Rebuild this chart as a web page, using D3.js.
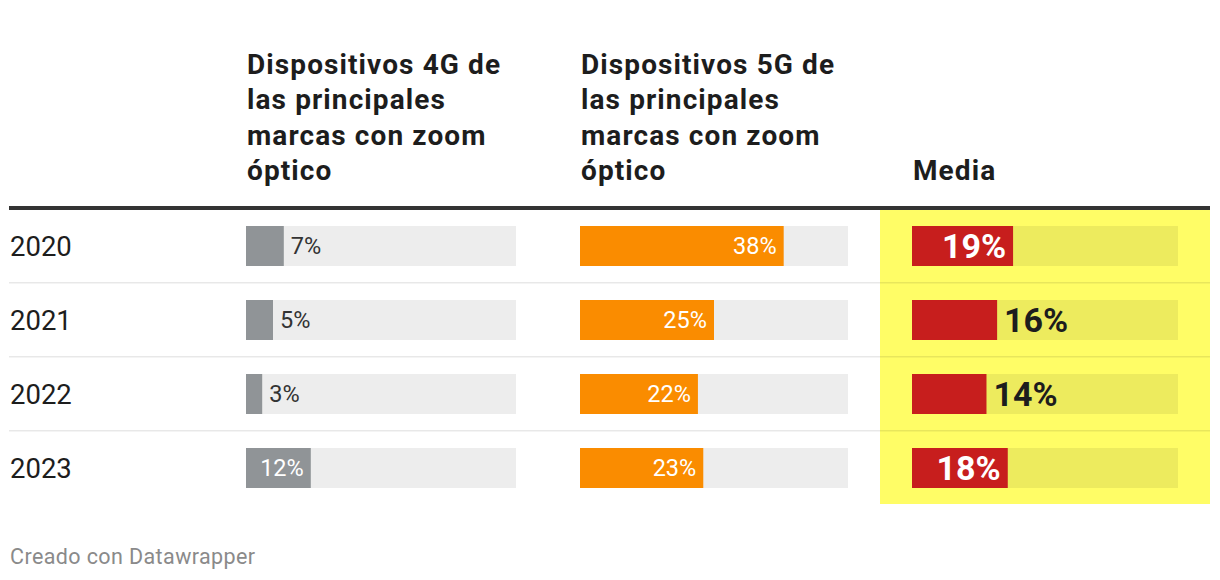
<!DOCTYPE html>
<html>
<head>
<meta charset="utf-8">
<script src="https://cdn.jsdelivr.net/npm/d3@7"></script>
<style>
  body { margin: 0; background: #fff; }
  text { font-family: Roboto, "Noto Sans", sans-serif; }
</style>
</head>
<body>
<div id="chart"></div>
<script>
// data
var years = ["2020", "2021", "2022", "2023"];
var dev4g = [7, 5, 3, 12];
var dev5g = [38, 25, 22, 23];
var media = [19, 16, 14, 18];
var header4g = ["Dispositivos 4G de", "las principales", "marcas con zoom", "óptico"];
var header5g = ["Dispositivos 5G de", "las principales", "marcas con zoom", "óptico"];
var headerMedia = ["Media"];

var width = 1220, height = 580;

var svg = d3.select("#chart")
  .append("svg")
    .attr("width", width)
    .attr("height", height);

// rows
var y = d3.scaleBand()
  .domain(years)
  .range([210, 210 + 74 * years.length]);
var barH = 40, barOff = 16;

// columns
var cols = [
  {values: dev4g, header: header4g, color: "#909497", x: d3.scaleLinear().domain([0, 50]).range([246, 516]), size: 23.5, weight: 400},
  {values: dev5g, header: header5g, color: "#fa8c00", x: d3.scaleLinear().domain([0, 50]).range([580, 848]), size: 23.5, weight: 400},
  {values: media, header: headerMedia, color: "#c71e1d", x: d3.scaleLinear().domain([0, 50]).range([912, 1178]), size: 34, weight: 700}
];

// yellow highlight behind the "Media" column
svg.append("rect")
  .attr("x", 880)
  .attr("y", y(years[0]))
  .attr("width", 330)
  .attr("height", y(years[years.length - 1]) + barOff + barH + 16 - y(years[0]))
  .attr("fill", "#fffd66");

// row separators
svg.selectAll(".sep")
  .data(years.slice(0, -1))
  .enter().append("rect")
    .attr("x", 9)
    .attr("y", function(d) { return y(d) + y.bandwidth() - 2; })
    .attr("width", 1201)
    .attr("height", 1.5)
    .attr("fill", "rgba(0,0,0,0.09)");

// thick header rule
svg.append("rect")
  .attr("x", 9).attr("y", 206)
  .attr("width", 1201).attr("height", 4)
  .attr("fill", "#333");

// year labels
svg.selectAll(".year")
  .data(years)
  .enter().append("text")
    .attr("x", 10)
    .attr("y", function(d) { return y(d) + barOff + barH / 2; })
    .attr("dy", "0.36em")
    .attr("font-size", 27.5)
    .attr("fill", "#1d1d1d")
    .text(function(d) { return d; });

cols.forEach(function(c) {
  // header
  var ht = svg.append("text")
    .attr("font-size", 28)
    .attr("font-weight", 700)
    .attr("letter-spacing", 1.1)
    .attr("fill", "#1d1d1d");
  var n = c.header.length;
  c.header.forEach(function(line, i) {
    ht.append("tspan")
      .attr("x", c.x(0) + 1)
      .attr("y", 180 - (n - 1 - i) * 35.5)
      .text(line);
  });

  var g = svg.append("g");
  // background bars
  g.selectAll(".bg")
    .data(years)
    .enter().append("rect")
      .attr("x", c.x(0))
      .attr("y", function(d) { return y(d) + barOff; })
      .attr("width", c.x(50) - c.x(0))
      .attr("height", barH)
      .attr("fill", "rgba(0,0,0,0.07)");

  // value bars
  g.selectAll(".bar")
    .data(c.values)
    .enter().append("rect")
      .attr("x", c.x(0))
      .attr("y", function(d, i) { return y(years[i]) + barOff; })
      .attr("width", function(d) { return c.x(d) - c.x(0); })
      .attr("height", barH)
      .attr("fill", c.color);

  // value labels: inside if there is room, otherwise after the bar
  g.selectAll(".lbl")
    .data(c.values)
    .enter().append("text")
      .attr("y", function(d, i) { return y(years[i]) + barOff + barH / 2; })
      .attr("dy", "0.36em")
      .attr("font-size", c.size)
      .attr("font-weight", c.weight)
      .text(function(d) { return d + "%"; })
      .each(function(d) {
        var t = d3.select(this);
        var w = this.getComputedTextLength();
        var bw = c.x(d) - c.x(0);
        if (w + 0.8 * c.size < bw) {
          t.attr("x", c.x(d) - 7).attr("text-anchor", "end").attr("fill", "#fff");
        } else {
          t.attr("x", c.x(d) + 7).attr("text-anchor", "start").attr("fill", c.weight > 400 ? "#1d1d1d" : "#333");
        }
      });
});

// footer
svg.append("text")
  .attr("x", 10)
  .attr("y", 564)
  .attr("font-size", 21.5)
  .attr("letter-spacing", 0.4)
  .attr("fill", "#8a8a8a")
  .text("Creado con Datawrapper");
</script>
</body>
</html>
